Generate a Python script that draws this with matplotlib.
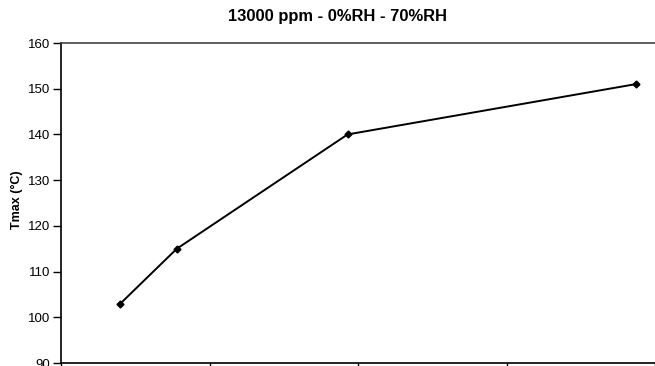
import numpy as np
import matplotlib.pyplot as plt

plt.rcParams['font.family'] = ['Liberation Sans', 'DejaVu Sans']

# x positions in units of the (unlabelled) x tick spacing
x_vals = [0.40, 0.78, 1.93, 3.87]
tmax = [103, 115, 140, 151]
y_ticks = [90, 100, 110, 120, 130, 140, 150, 160]
x_ticks = [0, 1, 2, 3, 4]

W, H = 655, 366
fig = plt.figure(figsize=(W / 100, H / 100), dpi=100)
ax = fig.add_axes([61 / W, 3 / H, 1 - 61 / W, 320 / H])

ax.plot(x_vals, tmax, color='black', linewidth=1.4, marker='D', markersize=3.5)

ax.set_ylim(90, 160)
ax.set_xlim(0, (W - 61) / 150)
ax.set_yticks(y_ticks)
ax.set_xticks(x_ticks)
ax.set_xticklabels([])
ax.tick_params(axis='y', direction='out', length=6, width=1, labelsize=9.5, pad=2)
ax.tick_params(axis='x', direction='out', length=6, width=1)

ax.spines['right'].set_visible(False)
for s in ['left', 'bottom', 'top']:
    ax.spines[s].set_linewidth(1.2)
    ax.spines[s].set_color('black')
ax.spines['top'].set_color('#444444')

fig.text(338 / W, 1 - 16 / H, '13000 ppm - 0%RH - 70%RH', ha='center', va='center',
         fontsize=11.9, fontweight='bold')
fig.text(17 / W, 1 - 200 / H, 'Tmax (°C)', ha='center', va='center', rotation=90,
         fontsize=9, fontweight='bold')

fig.savefig('out.png', dpi=100)
